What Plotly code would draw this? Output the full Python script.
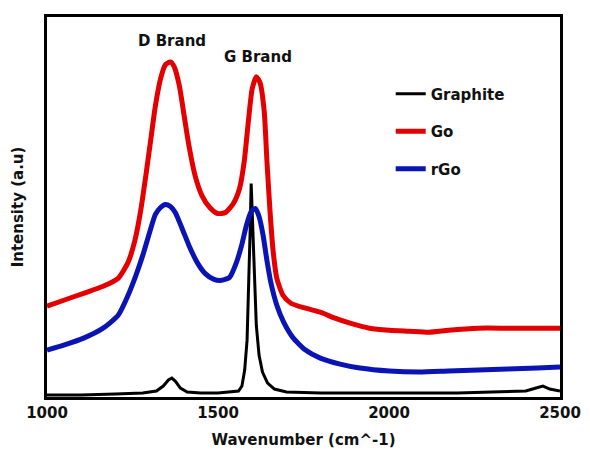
import plotly.graph_objects as go

# Wavenumber (cm^-1) and intensity (a.u.)
go_x = [1000, 1049, 1107, 1164, 1208, 1237, 1257, 1274, 1289, 1303, 1317, 1332, 1346, 1361,
        1372, 1387, 1401, 1415, 1433, 1453, 1476, 1499, 1522, 1545, 1563, 1577, 1589, 1600,
        1612, 1623, 1635, 1643, 1652, 1661, 1672, 1690, 1713, 1756, 1799, 1842, 1886, 1943,
        2001, 2059, 2117, 2174, 2261, 2347, 2434, 2500]
go_y = [94, 100, 107, 114, 122, 138, 160, 190, 225, 260, 295, 322, 336, 339,
        334, 315, 285, 255, 225, 205, 193, 187, 188, 197, 212, 240, 280, 312,
        324, 318, 290, 240, 190, 150, 122, 105, 97, 92, 88, 82, 77, 72,
        70, 69, 68, 70, 72, 72, 72, 72]

rgo_x = [1000, 1049, 1107, 1164, 1208, 1237, 1260, 1280, 1300, 1317, 1332, 1346, 1361, 1375,
         1395, 1415, 1439, 1462, 1488, 1511, 1534, 1554, 1569, 1583, 1597, 1609, 1620, 1632,
         1643, 1655, 1672, 1692, 1718, 1756, 1799, 1857, 1915, 2001, 2088, 2174, 2261, 2347,
         2434, 2500]
rgo_y = [50, 55, 62, 72, 85, 105, 125, 145, 168, 186, 193, 196, 194, 188,
         172, 155, 138, 127, 121, 120, 123, 138, 155, 175, 189, 192, 184, 165,
         140, 117, 95, 78, 63, 50, 42, 36, 32, 29, 28, 29, 30, 31,
         32, 33]

gr_x = [1000, 1100, 1200, 1280, 1320, 1340, 1355, 1365, 1375, 1390, 1410, 1450, 1500, 1540,
        1560, 1570, 1578, 1585, 1590, 1594, 1597, 1601, 1606, 1612, 1620, 1630, 1645, 1665,
        1700, 1800, 1900, 2000, 2100, 2200, 2300, 2400, 2430, 2450, 2470, 2500]
gr_y = [5, 5, 6, 7, 9, 14, 20, 22, 19, 12, 8, 7, 7, 8,
        9, 14, 30, 60, 110, 170, 217, 175, 120, 75, 45, 28, 17, 11,
        8, 7, 7, 7, 7, 7, 8, 9, 12, 14, 11, 9]

x_ticks = [1000, 1500, 2000, 2500]
band_labels = ["D Brand", "G Brand"]
band_x = [1366, 1617]
band_y = [360, 344]

FONT = "DejaVu Sans"

fig = go.Figure()
fig.add_trace(go.Scatter(x=gr_x, y=gr_y, mode="lines", name="Graphite",
                         line=dict(color="#000000", width=3), legendgroup="a"))
fig.add_trace(go.Scatter(x=go_x, y=go_y, mode="lines", name="Go",
                         line=dict(color="#e40000", width=5, shape="spline", smoothing=0.6),
                         legendgroup="b"))
fig.add_trace(go.Scatter(x=rgo_x, y=rgo_y, mode="lines", name="rGo",
                         line=dict(color="#0a14b4", width=5, shape="spline", smoothing=0.6),
                         legendgroup="c"))

for lab, bx, by in zip(band_labels, band_x, band_y):
    fig.add_annotation(x=bx, y=by, text=lab, showarrow=False,
                       font=dict(family=FONT, size=15, color="#111", weight="bold"))

fig.update_layout(
    width=582, height=446,
    margin=dict(l=38.5, r=29.5, t=8.5, b=56.5),
    paper_bgcolor="white", plot_bgcolor="white",
    font=dict(family=FONT, color="#111"),
    showlegend=True,
    legend=dict(x=0.67, y=0.841, xanchor="left", yanchor="top",
                bgcolor="rgba(0,0,0,0)", tracegroupgap=15,
                font=dict(family=FONT, size=15, color="#111", weight="bold")),
)
fig.update_xaxes(range=[1000, 2500], tickvals=x_ticks, showgrid=False, zeroline=False,
                 showline=True, linecolor="black", linewidth=3, mirror=True, ticks="",
                 automargin=False,
                 tickfont=dict(family=FONT, size=15, color="#111", weight="bold"),
                 title=dict(text="Wavenumber (cm^-1)", standoff=14,
                            font=dict(family=FONT, size=15, color="#111", weight="bold")))
fig.update_yaxes(range=[3, 384], showticklabels=False, showgrid=False, zeroline=False,
                 showline=True, linecolor="black", linewidth=3, mirror=True, ticks="",
                 automargin=False,
                 title=dict(text="Intensity (a.u)", standoff=17,
                            font=dict(family=FONT, size=15, color="#111", weight="bold")))

fig.write_html("out.html")
